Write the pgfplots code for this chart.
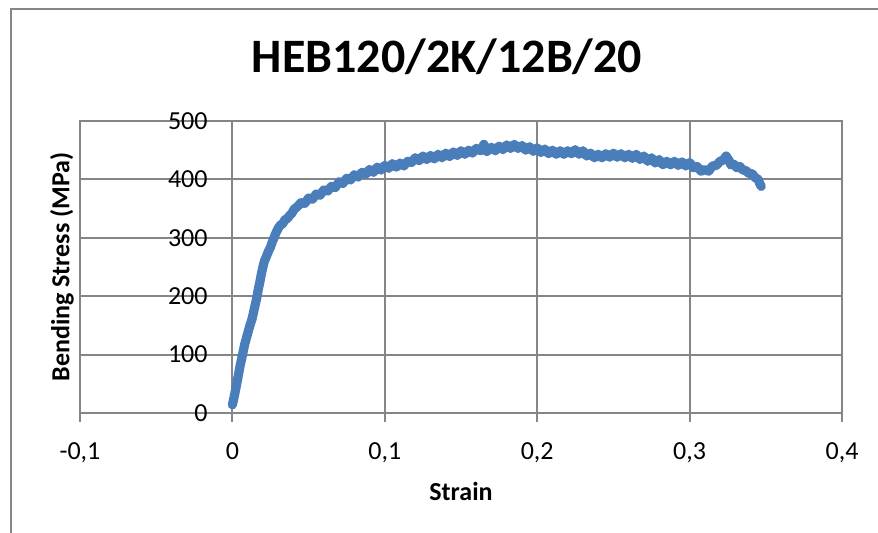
\documentclass[border=0pt]{standalone}
\usepackage{fontspec}
\setmainfont{Carlito}
\usepackage{pgfplots}
\pgfplotsset{compat=1.18}
\definecolor{excelblue}{RGB}{74,126,187}
\definecolor{gridgray}{RGB}{134,134,134}

\begin{document}
\begin{tikzpicture}
\begin{axis}[
  at={(0,0)}, anchor=south west,
  scale only axis, width=381pt, height=146pt,
  xmin=-0.1, xmax=0.4, ymin=0, ymax=500,
  xtick={-0.1,0,0.1,0.2,0.3,0.4},
  xticklabels={{-0,1},{0},{0,1},{0,2},{0,3},{0,4}},
  ytick={0,100,200,300,400,500},
  yticklabels={0,100,200,300,400,500},
  grid=major,
  grid style={gridgray, line width=1pt},
  axis line style={gridgray, line width=1pt},
  tick align=outside,
  xtick pos=bottom, ytick pos=left,
  major tick length=4.5pt,
  xtick style={gridgray, line width=1pt},
  ytick style={draw=none},
  font=\fontsize{13}{15.6}\selectfont,
  xticklabel style={anchor=north, inner sep=0pt, yshift=-10pt},
  yticklabel style={anchor=east, inner sep=0pt, xshift=68.5pt},
  xlabel={\textbf{Strain}},
  ylabel={\textbf{Bending Stress (MPa)}},
  every axis x label/.style={at={(axis description cs:0.5,0)}, anchor=center, yshift=-39pt},
  every axis y label/.style={at={(axis description cs:0,0.5)}, anchor=center, rotate=90, yshift=9pt},
  title={\fontsize{24}{28}\selectfont\bfseries HEB120/2K/12B/20},
  every axis title/.style={at={(axis description cs:0.4816,1)}, anchor=base, yshift=24pt},
  clip=false,
]
\addplot[color=excelblue, line width=4.6pt, line join=round, line cap=round] coordinates {
(0.0000,14) (0.0015,32) (0.0030,52) (0.0050,80) (0.0065,98) (0.0080,117)
(0.0100,136) (0.0115,150) (0.0130,162) (0.0145,180) (0.0160,197) (0.0170,212)
(0.0180,224) (0.0190,238) (0.0200,250) (0.0210,260) (0.0220,266) (0.0235,276)
(0.0250,284) (0.0260,292) (0.0270,298) (0.0285,308) (0.0300,316) (0.0315,322)
(0.0330,324) (0.0345,331) (0.0360,333) (0.0375,338) (0.0390,342) (0.0405,349)
(0.0420,352) (0.0435,356) (0.0450,360) (0.0475,359) (0.0500,368) (0.0525,366)
(0.0550,375) (0.0575,373) (0.0600,382) (0.0625,380) (0.0650,388) (0.0675,386)
(0.0700,396) (0.0725,393) (0.0750,402) (0.0775,399) (0.0800,408) (0.0825,404)
(0.0850,412) (0.0875,409) (0.0900,417) (0.0925,412) (0.0950,421) (0.0975,416)
(0.1000,424) (0.1025,419) (0.1050,427) (0.1075,421) (0.1100,428) (0.1125,423)
(0.1150,431) (0.1175,429) (0.1200,437) (0.1225,432) (0.1250,440) (0.1275,434)
(0.1300,441) (0.1325,435) (0.1350,443) (0.1375,437) (0.1400,445) (0.1425,439)
(0.1450,447) (0.1475,441) (0.1500,449) (0.1525,443) (0.1550,450) (0.1575,445)
(0.1600,453) (0.1630,449) (0.1650,460) (0.1670,448) (0.1700,455) (0.1725,449)
(0.1750,457) (0.1775,451) (0.1800,459) (0.1825,453) (0.1850,460) (0.1875,453)
(0.1900,458) (0.1925,450) (0.1950,456) (0.1975,448) (0.2000,454) (0.2025,446)
(0.2050,452) (0.2075,444) (0.2100,450) (0.2125,443) (0.2150,449) (0.2175,443)
(0.2200,449) (0.2225,444) (0.2250,451) (0.2275,443) (0.2300,449) (0.2325,440)
(0.2350,445) (0.2375,437) (0.2400,443) (0.2425,437) (0.2450,444) (0.2475,438)
(0.2500,445) (0.2525,438) (0.2550,444) (0.2575,437) (0.2600,443) (0.2625,436)
(0.2650,443) (0.2675,434) (0.2700,440) (0.2725,431) (0.2750,437) (0.2775,428)
(0.2800,434) (0.2825,425) (0.2850,431) (0.2875,425) (0.2900,431) (0.2925,424)
(0.2950,430) (0.2975,423) (0.3000,429) (0.3025,420) (0.3050,422) (0.3075,414)
(0.3100,417) (0.3125,414) (0.3150,423) (0.3175,424) (0.3200,431) (0.3220,433)
(0.3240,440) (0.3260,432) (0.3270,425) (0.3290,426) (0.3310,420) (0.3330,422)
(0.3350,416) (0.3370,415) (0.3390,410) (0.3410,410) (0.3430,403) (0.3450,400)
(0.3460,393) (0.3470,388)
};
\end{axis}
\draw[gridgray, line width=1pt] (-34.5pt,-70pt) -- (-34.5pt,202pt) -- (410pt,202pt);
\pgfresetboundingbox
\useasboundingbox (-40pt,-60pt) rectangle (399pt,206.5pt);
\end{tikzpicture}
\end{document}
